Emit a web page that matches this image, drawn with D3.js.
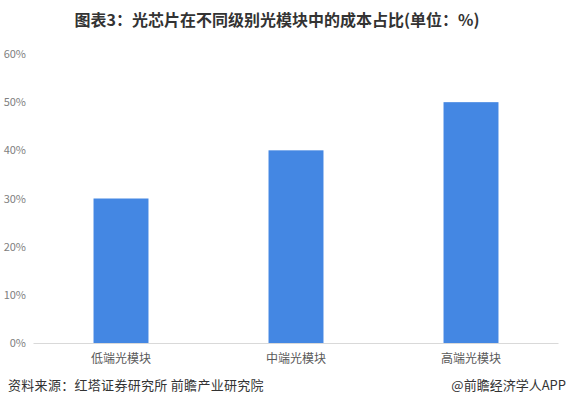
<!DOCTYPE html>
<html><head><meta charset="utf-8">
<script src="https://cdn.jsdelivr.net/npm/d3@7"></script>
<style>body{margin:0;background:#fff}svg{display:block}</style>
</head><body>
<svg id="c" width="567" height="407"></svg>
<script>
const categories = ["低端光模块", "中端光模块", "高端光模块"];
const values = [30, 40, 50];
const yTicks = [0, 10, 20, 30, 40, 50, 60];
const title = "图表3：光芯片在不同级别光模块中的成本占比(单位：%)";
const source = "资料来源：红塔证券研究所 前瞻产业研究院";
const credit = "@前瞻经济学人APP";

const svg = d3.select("#c");
const font = "'Noto Sans CJK SC', 'Microsoft YaHei', sans-serif";

const x = d3.scaleBand().domain(categories).range([33.5, 558.5]).paddingInner(0.686).paddingOuter(0.343);
const y = d3.scaleLinear().domain([0, 60]).range([343, 54]);

svg.append("text").attr("x", 277).attr("y", 26).attr("text-anchor", "middle")
  .attr("font-family", font).attr("font-weight", "bold").attr("font-size", 16).attr("fill", "#333")
  .text(title);

// y axis labels
const ya = svg.append("g").attr("transform", "translate(26,0)")
  .call(d3.axisLeft(y).tickValues(yTicks).tickFormat(d => d + "%").tickSize(0).tickPadding(0));
ya.select(".domain").remove();
ya.selectAll("text").attr("font-family", font).attr("font-size", 11).attr("fill", "#808080");

// bars
svg.append("g").selectAll("rect").data(values).join("rect")
  .attr("x", (d, i) => x(categories[i])).attr("width", x.bandwidth())
  .attr("y", d => y(d)).attr("height", d => y(0) - y(d)).attr("fill", "#4487e3");

// x axis
const xa = svg.append("g").attr("transform", `translate(0,${y(0)})`)
  .call(d3.axisBottom(x).tickSize(0).tickPadding(11));
xa.select(".domain").attr("stroke", "#d9d9d9").attr("d", "M33.5,0.5H558.5");
xa.selectAll("text").attr("font-family", font).attr("font-size", 12).attr("fill", "#595959");

svg.append("text").attr("x", 8).attr("y", 390).attr("font-family", font).attr("font-size", 13)
  .attr("letter-spacing", 0.3).attr("fill", "#333").text(source);
svg.append("text").attr("x", 566).attr("y", 390).attr("text-anchor", "end").attr("font-family", font).attr("font-size", 13).attr("fill", "#333")
  .text(credit);
</script>
</body></html>
